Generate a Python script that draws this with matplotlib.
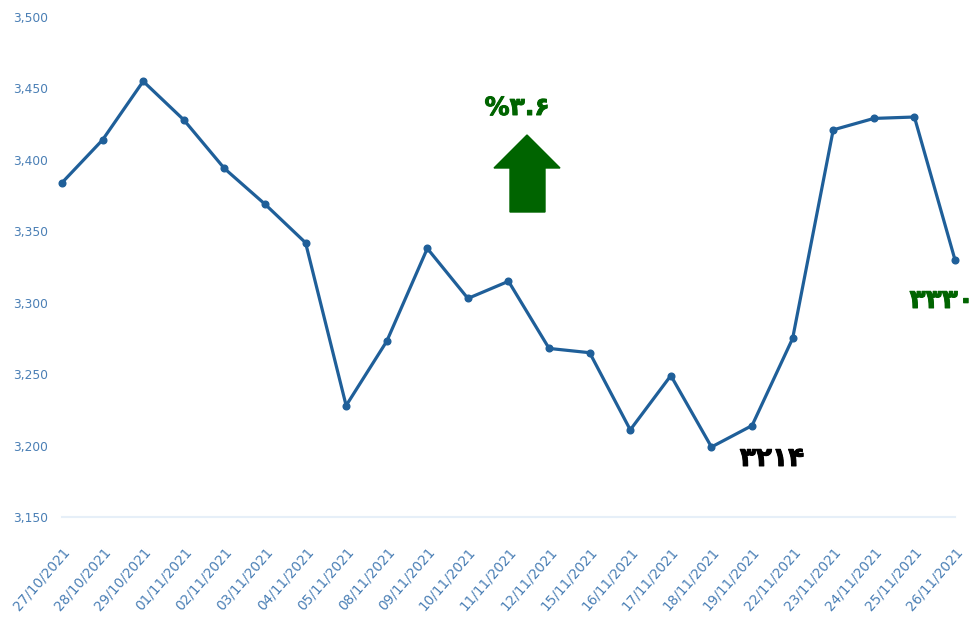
import matplotlib
matplotlib.use("Agg")
import matplotlib.pyplot as plt
import matplotlib.patheffects as pe
from matplotlib.patches import Polygon
from matplotlib.ticker import FuncFormatter

dates = ["27/10/2021", "28/10/2021", "29/10/2021", "01/11/2021", "02/11/2021",
         "03/11/2021", "04/11/2021", "05/11/2021", "08/11/2021", "09/11/2021",
         "10/11/2021", "11/11/2021", "12/11/2021", "15/11/2021", "16/11/2021",
         "17/11/2021", "18/11/2021", "19/11/2021", "22/11/2021", "23/11/2021",
         "24/11/2021", "25/11/2021", "26/11/2021"]
values = [3384, 3414, 3455, 3428, 3394, 3369, 3342, 3228, 3273, 3338,
          3303, 3315, 3268, 3265, 3211, 3249, 3199, 3214, 3275, 3421,
          3429, 3430, 3330]
yticks = [3150, 3200, 3250, 3300, 3350, 3400, 3450, 3500]
change_label = "%۳.۶"
low_label = "۳۲۱۴"
last_label = "۳۳۳۰"

W, H = 977, 628
fig = plt.figure(figsize=(W / 100, H / 100), dpi=100)
ax = fig.add_axes([62 / W, (H - 517) / H, (955 - 62) / W, 500 / H])

line_color = "#1f5f99"
tick_color = "#4a7fb5"
green = "#006400"

x = list(range(len(values)))
ax.plot(x, values, color=line_color, lw=2.3, marker="o", ms=4.8,
        clip_on=False, zorder=3)

ax.set_xlim(0, len(values) - 1)
ax.set_ylim(3150, 3500)
ax.set_yticks(yticks)
ax.yaxis.set_major_formatter(FuncFormatter(lambda v, p: f"{int(v):,}"))
ax.set_xticks(x)
ax.set_xticklabels(dates, rotation=49, ha="right", rotation_mode="anchor")

for s in ["top", "right", "left"]:
    ax.spines[s].set_visible(False)
ax.spines["bottom"].set_color("#e6eff8")
ax.spines["bottom"].set_linewidth(1.5)
ax.tick_params(axis="y", length=0, pad=10, labelsize=8.8, labelcolor=tick_color)
ax.tick_params(axis="x", length=0, pad=20, labelsize=9.8, labelcolor=tick_color)

thick = lambda c: [pe.withStroke(linewidth=0.7, foreground=c)]

# Annotations
fig.text(517 / W, 1 - 108 / H, change_label, color=green, fontsize=18,
         fontweight="bold", ha="center", va="center", path_effects=thick(green))
arrow = Polygon([(494 / W, 1 - 168 / H), (527 / W, 1 - 135 / H),
                 (560 / W, 1 - 168 / H), (545 / W, 1 - 168 / H),
                 (545 / W, 1 - 212 / H), (510 / W, 1 - 212 / H),
                 (510 / W, 1 - 168 / H)],
                closed=True, transform=fig.transFigure, facecolor=green,
                edgecolor=green)
fig.patches.append(arrow)

fig.text(772 / W, 1 - 459 / H, low_label, color="black", fontsize=19,
         fontweight="bold", ha="center", va="center", path_effects=thick("black"))
fig.text(974 / W, 1 - 301 / H, last_label, color=green, fontsize=19,
         fontweight="bold", ha="right", va="center", path_effects=thick(green))

fig.savefig("out.png", dpi=100)
